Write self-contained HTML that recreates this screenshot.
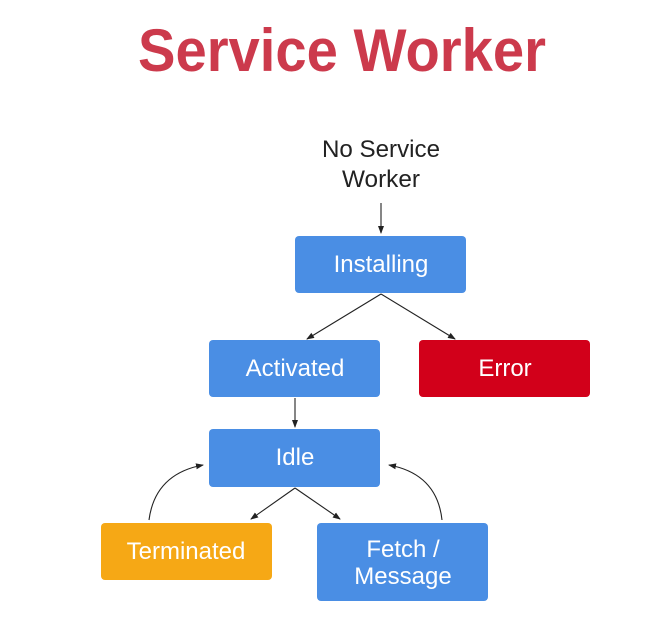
<!DOCTYPE html>
<html><head><style>html,body{margin:0;padding:0;background:#fff}</style></head>
<body>
<svg width="646" height="631" xmlns="http://www.w3.org/2000/svg" font-family="Liberation Sans, sans-serif">
<defs><marker id="a" markerWidth="8" markerHeight="8" refX="7" refY="4" orient="auto" markerUnits="userSpaceOnUse"><path d="M0,1 L8,4 L0,7 Z" fill="#222"/></marker></defs>
<rect width="646" height="631" fill="#fff"/>
<text x="342" y="71" text-anchor="middle" font-size="60" font-weight="bold" fill="#cc3a4c" textLength="408" lengthAdjust="spacingAndGlyphs">Service Worker</text>
<text x="381" y="157" text-anchor="middle" font-size="24" fill="#222" textLength="118" lengthAdjust="spacingAndGlyphs">No Service</text>
<text x="381" y="187" text-anchor="middle" font-size="24" fill="#222" textLength="78" lengthAdjust="spacingAndGlyphs">Worker</text>
<g stroke="#222" stroke-width="1.1" fill="none" marker-end="url(#a)">
<line x1="381" y1="203" x2="381" y2="233"/>
<line x1="381" y1="294" x2="307" y2="339"/>
<line x1="381" y1="294" x2="455" y2="339"/>
<line x1="295" y1="398" x2="295" y2="427"/>
<line x1="295" y1="488" x2="251" y2="519"/>
<line x1="295" y1="488" x2="340" y2="519"/>
<path d="M149,520 Q155,474 203,465"/>
<path d="M442,520 Q437,474 389,465"/>
</g>
<g font-size="24" fill="#fff" text-anchor="middle">
<rect x="295" y="236" width="171" height="57" rx="4" fill="#4a8ee4"/>
<text x="381" y="272">Installing</text>
<rect x="209" y="340" width="171" height="57" rx="4" fill="#4a8ee4"/>
<text x="295" y="376">Activated</text>
<rect x="419" y="340" width="171" height="57" rx="4" fill="#d2001a"/>
<text x="505" y="376">Error</text>
<rect x="209" y="429" width="171" height="58" rx="4" fill="#4a8ee4"/>
<text x="295" y="465">Idle</text>
<rect x="101" y="523" width="171" height="57" rx="4" fill="#f6a815"/>
<text x="186" y="559">Terminated</text>
<rect x="317" y="523" width="171" height="78" rx="4" fill="#4a8ee4"/>
<text x="403" y="557">Fetch /</text>
<text x="403" y="584">Message</text>
</g>
</svg>
</body></html>
